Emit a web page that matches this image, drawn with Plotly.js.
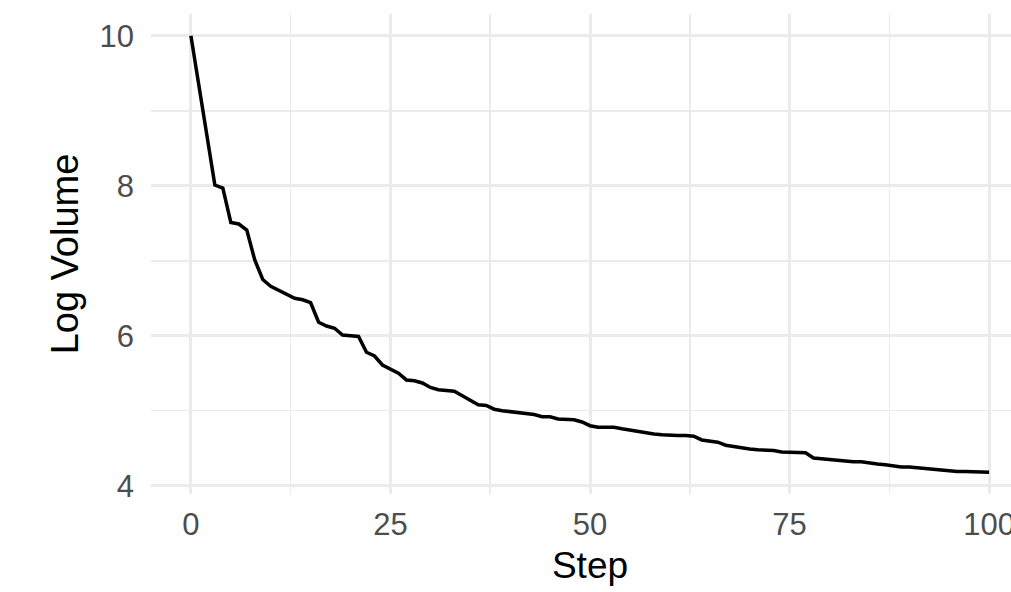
<!DOCTYPE html>
<html>
<head>
<meta charset="utf-8">
<script src="https://cdn.plot.ly/plotly-3.0.1.min.js"></script>
<style>
html,body{margin:0;padding:0;overflow:hidden;background:#fff;width:1011px;height:592px;}
#chart{width:1029px;height:592px;}
</style>
</head>
<body>
<div id="chart"></div>
<script>
const steps = [];
for (let i = 0; i <= 100; i++) steps.push(i);
const logVolume = [
 10.00, 9.32, 8.64, 8.01, 7.97, 7.51, 7.49, 7.41, 7.01, 6.75,
 6.66, 6.61, 6.55, 6.50, 6.48, 6.44, 6.18, 6.13, 6.10, 6.01,
 6.00, 5.99, 5.78, 5.73, 5.61, 5.55, 5.50, 5.41, 5.40, 5.37,
 5.31, 5.28, 5.27, 5.26, 5.20, 5.14, 5.08, 5.07, 5.02, 5.00,
 4.99, 4.98, 4.97, 4.95, 4.92, 4.92, 4.89, 4.89, 4.88, 4.85,
 4.80, 4.78, 4.78, 4.78, 4.76, 4.74, 4.73, 4.71, 4.69, 4.68,
 4.67, 4.67, 4.67, 4.66, 4.61, 4.59, 4.58, 4.54, 4.52, 4.50,
 4.49, 4.48, 4.48, 4.47, 4.45, 4.45, 4.44, 4.44, 4.37, 4.36,
 4.35, 4.33, 4.32, 4.32, 4.32, 4.30, 4.29, 4.28, 4.26, 4.25,
 4.25, 4.24, 4.22, 4.22, 4.21, 4.20, 4.19, 4.19, 4.19, 4.18,
 4.18
];
const xTicks = [0, 25, 50, 75, 100];
const yTicks = [4, 6, 8, 10];

const trace = {
  x: steps, y: logVolume, type: 'scatter', mode: 'lines',
  line: {color: '#000000', width: 3.5}, hoverinfo: 'skip'
};
const fam = 'Liberation Sans, Arial, sans-serif';
const panelTop = 14, panelBottom = 494.3;
const layout = {
  width: 1029, height: 592,
  margin: {l: 151, r: 0, t: panelTop, b: 592 - panelBottom, pad: 0},
  paper_bgcolor: '#ffffff', plot_bgcolor: '#ffffff',
  font: {family: fam},
  showlegend: false,
  xaxis: {
    range: [-5, 105],
    tickvals: xTicks, ticktext: xTicks.map(String),
    showgrid: true, gridcolor: '#EBEBEB', gridwidth: 3,
    minor: {tickvals: [12.5, 37.5, 62.5, 87.5], showgrid: true, gridcolor: '#EBEBEB', gridwidth: 1.5, ticks: ''},
    zeroline: false, showline: false, ticks: '',
    ticklabelstandoff: 9,
    tickfont: {family: fam, size: 31, color: '#4D4D4D'},
    title: {text: 'Step', font: {family: fam, size: 37, color: '#000000'}, standoff: 11}
  },
  yaxis: {
    range: [3.889, 10.291],
    tickvals: yTicks, ticktext: yTicks.map(String),
    showgrid: true, gridcolor: '#EBEBEB', gridwidth: 3,
    minor: {tickvals: [5, 7, 9], showgrid: true, gridcolor: '#EBEBEB', gridwidth: 1.5, ticks: ''},
    zeroline: false, showline: false, ticks: '',
    ticklabelstandoff: 16,
    tickfont: {family: fam, size: 31, color: '#4D4D4D'},
    title: {text: 'Log Volume', font: {family: fam, size: 38, color: '#000000'}, standoff: 9}
  }
};
Plotly.newPlot('chart', [trace], layout, {displayModeBar: false, staticPlot: true});
</script>
</body>
</html>
